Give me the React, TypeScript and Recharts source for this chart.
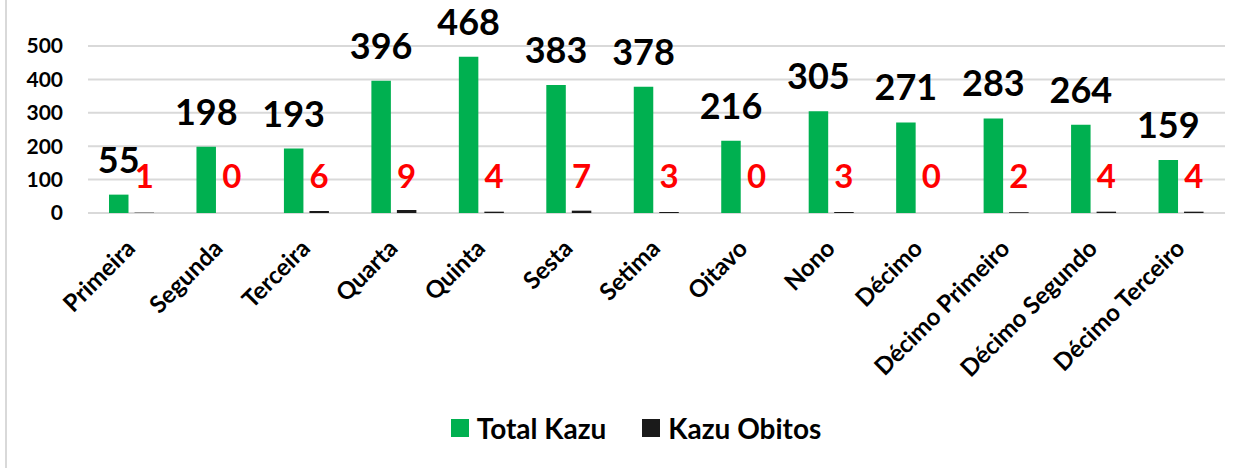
import React from 'react';
import { BarChart, Bar, XAxis, YAxis, CartesianGrid, Legend, LabelList } from 'recharts';

const categories = ['Primeira', 'Segunda', 'Terceira', 'Quarta', 'Quinta', 'Sesta', 'Setima', 'Oitavo', 'Nono', 'Décimo', 'Décimo Primeiro', 'Décimo Segundo', 'Décimo Terceiro'];
const totalKazu = [55, 198, 193, 396, 468, 383, 378, 216, 305, 271, 283, 264, 159];
const kazuObitos = [1, 0, 6, 9, 4, 7, 3, 0, 3, 0, 2, 4, 4];
const yTicks = [0, 100, 200, 300, 400, 500];
const seriesOrder = ['Total Kazu', 'Kazu Obitos'];

const data = categories.map((name, i) => ({ name, total: totalKazu[i], obitos: kazuObitos[i] }));

const FONT = 'Lato, "Open Sans", sans-serif';
const BAR_SIZE = 19.5;
const BAR_GAP = 6;

const XTick = (props: any) => {
  const { x, y, payload } = props;
  return (
    <g transform={`translate(${x + 5},${y + 29})`}>
      <text textAnchor="end" transform="rotate(-45)" fontSize={24} fontWeight={700} fontFamily={FONT} fill="#000">
        {payload.value}
      </text>
    </g>
  );
};

const GreenLabel = (props: any) => {
  const { x, y, width, value } = props;
  return (
    <text x={Number(x) + Number(width) / 2} y={Number(y) - 22} textAnchor="middle" fontSize={36} fontWeight={700} fontFamily={FONT} fill="#000">
      {value}
    </text>
  );
};

// Red label for the "Kazu Obitos" value, placed over the neighbouring (black) bar slot
const RedLabel = (props: any) => {
  const { x, y, width, height, value } = props;
  const cx = Number(x) + Number(width) + BAR_GAP + Number(width) / 2;
  return (
    <text x={cx} y={Number(y) + Number(height) - 25} textAnchor="middle" fontSize={33} fontWeight={700} fontFamily={FONT} fill="#FF0000">
      {value}
    </text>
  );
};

const LegendContent = (props: any) => {
  const payload = [...(props.payload || [])].sort(
    (a: any, b: any) => seriesOrder.indexOf(a.value) - seriesOrder.indexOf(b.value)
  );
  return (
    <div style={{ display: 'flex', justifyContent: 'center', alignItems: 'center', paddingLeft: 21, fontFamily: FONT }}>
      {payload.map((entry: any, i: number) => (
        <div key={i} style={{ display: 'flex', alignItems: 'center', marginLeft: i === 0 ? 0 : 36 }}>
          <div style={{ width: 18, height: 18, background: entry.color, marginRight: 8 }} />
          <span style={{ fontSize: 28, fontWeight: 700, color: '#000', lineHeight: '30px' }}>{entry.value}</span>
        </div>
      ))}
    </div>
  );
};

export default function App() {
  return (
    <div style={{ position: 'absolute', left: 0, top: 0, width: 1251, height: 468, background: '#fff' }}>
      <div style={{ position: 'absolute', left: 5, top: 0, width: 2, height: 468, background: '#d9d9d9' }} />
      <BarChart
        width={1251}
        height={468}
        data={data}
        margin={{ top: 46, right: 26, left: 0, bottom: 105 }}
        barGap={BAR_GAP}
      >
        <CartesianGrid vertical={false} stroke="#d9d9d9" strokeWidth={2} />
        <XAxis dataKey="name" axisLine={false} tickLine={false} interval={0} height={150} tick={<XTick />} />
        <YAxis
          domain={[0, 500]}
          ticks={yTicks}
          axisLine={false}
          tickLine={false}
          width={88}
          tickMargin={19}
          tick={{ fontSize: 21, fontWeight: 700, fill: '#000', fontFamily: FONT }}
        />
        <Legend
          layout="horizontal"
          verticalAlign="middle"
          align="center"
          content={<LegendContent />}
          wrapperStyle={{ top: 413, left: 0, width: 1251, height: 30 }}
        />
        <Bar dataKey="total" name="Total Kazu" fill="#00B050" barSize={BAR_SIZE} isAnimationActive={false}>
          <LabelList dataKey="total" content={<GreenLabel />} />
          <LabelList dataKey="obitos" content={<RedLabel />} />
        </Bar>
        <Bar dataKey="obitos" name="Kazu Obitos" fill="#1a1a1a" barSize={BAR_SIZE} isAnimationActive={false} />
      </BarChart>
    </div>
  );
}
